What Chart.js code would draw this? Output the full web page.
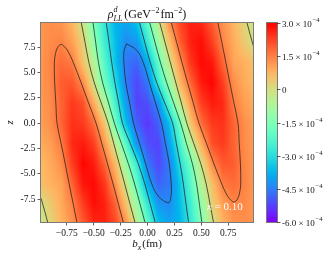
<!DOCTYPE html>
<html>
<head>
<meta charset="utf-8">
<script src="https://cdn.jsdelivr.net/npm/chart.js@4.4.1/dist/chart.umd.min.js"></script>
<style>
    html, body { margin: 0; padding: 0; background: #fff; }
    #wrap { position: relative; width: 335px; height: 258px; }
    #main { position: absolute; left: 0; top: 0; }
    #cbar { position: absolute; left: 260px; top: 0; }
</style>
</head>
<body>
<div id="wrap">
    <canvas id="main" width="335" height="258"></canvas>
    <canvas id="cbar" width="75" height="258"></canvas>
</div>
<script>
// grid of rho values (units of 1e-4 GeV^-2 fm^-2)
const bxGrid = [-1.0, -0.9, -0.8, -0.7, -0.6, -0.5, -0.4, -0.3, -0.2, -0.1, 0.0, 0.1, 0.2, 0.3, 0.4, 0.5, 0.6, 0.7, 0.8, 0.9, 1.0];
const zGrid = [10, 8, 6, 4, 2, 0, -2, -4, -6, -8, -10];
const rho = [
    [1.2, 1.3, 1.2, 0.75, -0.2, -1.6, -2.8, -3.75, -4.0, -3.5, -2.0, -0.3, 1.3, 2.2, 2.65, 2.55, 1.95, 1.25, 0.75, 0.2, -0.35],
    [1.15, 1.35, 1.45, 1.05, 0.3, -1.2, -2.6, -3.6, -4.35, -4.2, -2.75, -1.05, 0.55, 1.9, 2.65, 2.85, 2.3, 1.45, 0.9, 0.4, -0.1],
    [1.15, 1.45, 1.75, 1.55, 0.55, -0.55, -2.2, -3.5, -4.6, -4.85, -3.9, -2.0, -0.2, 1.25, 2.4, 2.9, 2.75, 1.85, 1.0, 0.8, 0.55],
    [1.15, 1.4, 1.95, 2.0, 1.35, -0.1, -1.8, -3.05, -4.55, -5.2, -4.6, -2.7, -1.15, 0.7, 1.85, 2.7, 2.95, 2.3, 1.3, 0.9, 0.65],
    [1.1, 1.35, 1.85, 2.35, 2.1, 0.9, -0.6, -2.5, -4.1, -5.25, -5.1, -4.3, -2.2, -0.3, 1.2, 2.3, 2.7, 2.55, 1.55, 1.1, 0.85],
    [1.05, 1.3, 1.85, 2.45, 2.35, 1.75, 0.5, -1.8, -3.6, -4.9, -5.4, -4.9, -3.6, -1.8, 0.5, 1.75, 2.35, 2.45, 1.85, 1.3, 1.05],
    [0.85, 1.1, 1.55, 2.55, 2.7, 2.3, 1.2, -0.3, -2.2, -4.3, -5.1, -5.25, -4.1, -2.5, -0.6, 0.9, 2.1, 2.35, 1.85, 1.35, 1.1],
    [0.65, 0.9, 1.3, 2.3, 2.95, 2.7, 1.85, 0.7, -1.15, -2.7, -4.6, -5.2, -4.55, -3.05, -1.8, -0.1, 1.35, 2.0, 1.95, 1.4, 1.15],
    [0.55, 0.8, 1.0, 1.85, 2.75, 2.9, 2.4, 1.25, -0.2, -2.0, -3.9, -4.85, -4.6, -3.5, -2.2, -0.55, 0.55, 1.55, 1.75, 1.45, 1.15],
    [-0.1, 0.4, 0.9, 1.45, 2.3, 2.85, 2.65, 1.9, 0.55, -1.05, -2.75, -4.2, -4.35, -3.6, -2.6, -1.2, 0.3, 1.05, 1.45, 1.35, 1.15],
    [-0.35, 0.2, 0.75, 1.25, 1.95, 2.55, 2.65, 2.2, 1.3, -0.3, -2.0, -3.5, -4.0, -3.75, -2.8, -1.6, -0.2, 0.75, 1.2, 1.3, 1.2]
];

// contour lines [bx, z], levels 1.5, 0, -1.5, -3, -4.5 (x1e-4)
const contour15Left = [[-0.654, -9.9], [-0.69, -8], [-0.728, -6], [-0.765, -4], [-0.803, -2], [-0.841, 0], [-0.852, 2], [-0.863, 4], [-0.866, 6], [-0.855, 6.9], [-0.835, 7.5], [-0.805, 7.78], [-0.775, 7.6], [-0.738, 7.1], [-0.69, 6], [-0.617, 4], [-0.548, 2], [-0.478, 0], [-0.425, -2], [-0.372, -4], [-0.32, -6], [-0.27, -8], [-0.222, -9.9]];
const contour15Right = [[0.654, 9.9], [0.69, 8], [0.728, 6], [0.765, 4], [0.803, 2], [0.841, 0], [0.852, -2], [0.863, -4], [0.866, -6], [0.855, -6.9], [0.835, -7.5], [0.805, -7.78], [0.775, -7.6], [0.738, -7.1], [0.69, -6], [0.617, -4], [0.548, -2], [0.478, 0], [0.425, 2], [0.372, 4], [0.32, 6], [0.27, 8], [0.222, 9.9]];
const contour0Left = [[-0.615, 9.9], [-0.581, 8], [-0.545, 6], [-0.495, 4], [-0.43, 2], [-0.365, 0], [-0.314, -2], [-0.263, -4], [-0.212, -6], [-0.162, -8], [-0.114, -9.9]];
const contour0Right = [[0.114, 9.9], [0.162, 8], [0.212, 6], [0.263, 4], [0.314, 2], [0.365, 0], [0.43, -2], [0.495, -4], [0.545, -6], [0.581, -8], [0.615, -9.9]];
const contour0TopRight = [[0.925, 9.9], [0.955, 8.7], [0.99, 7.4]];
const contour0BottomLeft = [[-0.925, -9.9], [-0.955, -8.7], [-0.99, -7.4]];
const contourM15Left = [[-0.506, 9.9], [-0.482, 8], [-0.456, 6], [-0.417, 4], [-0.362, 2], [-0.308, 0], [-0.243, -2], [-0.178, -4], [-0.12, -6], [-0.069, -8], [-0.021, -9.9]];
const contourM15Right = [[0.021, 9.9], [0.069, 8], [0.12, 6], [0.178, 4], [0.243, 2], [0.308, 0], [0.362, -2], [0.417, -4], [0.456, -6], [0.482, -8], [0.506, -9.9]];
const contourM3Left = [[-0.383, 9.9], [-0.358, 8], [-0.333, 6], [-0.303, 4], [-0.268, 2], [-0.233, 0], [-0.16, -2], [-0.086, -4], [-0.025, -6], [0.026, -8], [0.074, -9.9]];
const contourM3Right = [[-0.074, 9.9], [-0.026, 8], [0.025, 6], [0.086, 4], [0.16, 2], [0.233, 0], [0.268, -2], [0.303, -4], [0.333, -6], [0.358, -8], [0.383, -9.9]];
const contourM45 = [[-0.195, 7.85], [-0.218, 7.2], [-0.22, 6], [-0.202, 4], [-0.166, 2], [-0.13, 0], [-0.074, -2], [-0.018, -4], [0.04, -6], [0.1, -7.2], [0.195, -7.85], [0.218, -7.2], [0.22, -6], [0.202, -4], [0.166, -2], [0.13, 0], [0.074, 2], [0.018, 4], [-0.04, 6], [-0.1, 7.2], [-0.195, 7.85]];

const xTicks = [-0.75, -0.5, -0.25, 0, 0.25, 0.5, 0.75];
const xTickLabels = ['\u22120.75', '\u22120.50', '\u22120.25', '0.00', '0.25', '0.50', '0.75'];
const zTicks = [-7.5, -5, -2.5, 0, 2.5, 5, 7.5];
const zTickLabels = ['-7.5', '-5.0', '-2.5', '0.0', '2.5', '5.0', '7.5'];
const cbTicks = [-6, -4.5, -3, -1.5, 0, 1.5, 3];
const cbTickLabels = ['-6.0', '-4.5', '-3.0', '-1.5', '0', '1.5', '3.0'];
const cbMin = -6, cbMax = 3;

const SERIF = '"Liberation Serif", "Times New Roman", serif';

// matplotlib "rainbow"
function rainbow(v) {
    let t = (v - cbMin) / (cbMax - cbMin);
    t = Math.max(0, Math.min(1, t));
    const cl = a => Math.max(0, Math.min(1, a));
    return [
        Math.round(255 * cl(Math.abs(2 * t - 0.5))),
        Math.round(255 * cl(Math.sin(Math.PI * t))),
        Math.round(255 * cl(Math.cos(Math.PI * t / 2)))
    ];
}

function locate(arr, v) {
    const asc = arr[1] > arr[0];
    for (let i = 0; i < arr.length - 1; i++) {
        const lo = arr[i], hi = arr[i + 1];
        if ((asc && v <= hi) || (!asc && v >= hi)) {
            const f = Math.max(0, Math.min(1, (v - lo) / (hi - lo)));
            return [i, f];
        }
    }
    return [arr.length - 2, 1];
}

// gouraud-style shading of the grid, through the chart's scales
const heatmapPlugin = {
    id: 'heatmap',
    beforeDatasetsDraw(chart) {
        const { ctx, chartArea: a, scales: { x, y } } = chart;
        const w = Math.round(a.right - a.left), h = Math.round(a.bottom - a.top);
        const off = document.createElement('canvas');
        off.width = w; off.height = h;
        const octx = off.getContext('2d');
        const img = octx.createImageData(w, h);
        for (let j = 0; j < h; j++) {
            const [zi, zf] = locate(zGrid, y.getValueForPixel(a.top + j + 0.5));
            for (let i = 0; i < w; i++) {
                const [bi, bf] = locate(bxGrid, x.getValueForPixel(a.left + i + 0.5));
                const top = rho[zi][bi] * (1 - bf) + rho[zi][bi + 1] * bf;
                const bot = rho[zi + 1][bi] * (1 - bf) + rho[zi + 1][bi + 1] * bf;
                const c = rainbow(top * (1 - zf) + bot * zf);
                const k = (j * w + i) * 4;
                img.data[k] = c[0]; img.data[k + 1] = c[1]; img.data[k + 2] = c[2]; img.data[k + 3] = 255;
            }
        }
        octx.putImageData(img, 0, 0);
        ctx.drawImage(off, a.left, a.top);
    }
};

const textPlugin = {
    id: 'texts',
    afterDraw(chart) {
        const { ctx, chartArea: a } = chart;
        ctx.save();
        // frame
        ctx.strokeStyle = '#7a7a7a';
        ctx.lineWidth = 1;
        ctx.strokeRect(a.left - 0.5, a.top - 0.5, a.right - a.left + 1, a.bottom - a.top + 1);

        ctx.fillStyle = '#111';
        ctx.textBaseline = 'alphabetic';
        // title: rho^d_LL (GeV^-2 fm^-2)
        const big = `12px ${SERIF}`, bigI = `italic 12px ${SERIF}`, small = `8px ${SERIF}`, smallI = `italic 8px ${SERIF}`;
        const parts = [
            { t: '\u03c1', f: bigI, dy: 0 },
            { t: 'd', f: smallI, dy: -6, stack: true },
            { t: 'LL', f: smallI, dy: 3 },
            { t: '(GeV', f: big, dy: 0, gap: 2 },
            { t: '\u22122', f: small, dy: -5 },
            { t: 'fm', f: big, dy: 0, gap: 1 },
            { t: '\u22122', f: small, dy: -5 },
            { t: ')', f: big, dy: 0 }
        ];
        let total = 0, stackW = 0;
        parts.forEach(p => {
            ctx.font = p.f;
            p.w = ctx.measureText(p.t).width;
            if (p.stack) { stackW = p.w; p.adv = 0; }
            else { p.adv = Math.max(p.w, stackW); stackW = 0; }
            total += p.adv + (p.gap || 0);
        });
        let cx = (a.left + a.right) / 2 - total / 2;
        parts.forEach(p => {
            cx += p.gap || 0;
            ctx.font = p.f;
            ctx.fillText(p.t, cx, 18 + p.dy);
            cx += p.adv;
        });

        // x label: b_x (fm)
        ctx.font = `italic 11px ${SERIF}`;
        const bw = ctx.measureText('b').width;
        ctx.font = `italic 8px ${SERIF}`;
        const sw = ctx.measureText('x').width;
        ctx.font = `11px ${SERIF}`;
        const fw = ctx.measureText('(fm)').width;
        let lx = (a.left + a.right) / 2 - (bw + sw + fw + 1) / 2;
        ctx.font = `italic 11px ${SERIF}`;
        ctx.fillText('b', lx, 247);
        ctx.font = `italic 8px ${SERIF}`;
        ctx.fillText('x', lx + bw, 249.5);
        ctx.font = `11px ${SERIF}`;
        ctx.fillText('(fm)', lx + bw + sw + 1, 247);

        // y label: z (rotated)
        ctx.save();
        ctx.translate(13, (a.top + a.bottom) / 2);
        ctx.rotate(-Math.PI / 2);
        ctx.font = `italic 10.5px ${SERIF}`;
        ctx.textAlign = 'center';
        ctx.fillText('z', 0, 0);
        ctx.restore();

        // x = 0.10
        ctx.fillStyle = '#fff';
        ctx.font = `italic 11px ${SERIF}`;
        ctx.fillText('x', 207, 209.5);
        const xw = ctx.measureText('x').width;
        ctx.font = `11px ${SERIF}`;
        ctx.fillText(' = 0.10', 207 + xw, 209.5);
        ctx.restore();
    }
};

const contourSets = [contour15Left, contour15Right, contour0Left, contour0Right, contour0TopRight, contour0BottomLeft,
    contourM15Left, contourM15Right, contourM3Left, contourM3Right, contourM45];

new Chart(document.getElementById('main'), {
    type: 'scatter',
    data: {
        datasets: contourSets.map(pts => ({
            data: pts.map(([bx, z]) => ({ x: bx, y: z })),
            showLine: true,
            borderColor: 'rgba(35, 35, 35, 0.85)',
            borderWidth: 0.9,
            pointRadius: 0,
            tension: 0.35,
            fill: false
        }))
    },
    options: {
        responsive: false,
        animation: false,
        devicePixelRatio: 1,
        layout: { padding: { left: 0, top: 23, right: 82, bottom: 0 } },
        plugins: { legend: { display: false }, tooltip: { enabled: false } },
        scales: {
            x: {
                type: 'linear', min: -0.99, max: 0.98,
                afterBuildTicks: s => { s.ticks = xTicks.map(v => ({ value: v })); },
                afterFit: s => { s.height = 36; },
                grid: { drawOnChartArea: false, drawTicks: true, tickLength: 3.5, tickColor: '#333', tickWidth: 0.8 },
                border: { display: false },
                ticks: {
                    font: { family: SERIF, size: 9.5 }, color: '#111', padding: 2, maxRotation: 0, autoSkip: false,
                    callback: (v, i) => xTickLabels[i]
                }
            },
            y: {
                type: 'linear', min: -9.75, max: 9.9,
                afterBuildTicks: s => { s.ticks = zTicks.map(v => ({ value: v })); },
                afterFit: s => { s.width = 41; },
                grid: { drawOnChartArea: false, drawTicks: true, tickLength: 3.5, tickColor: '#333', tickWidth: 0.8 },
                border: { display: false },
                ticks: {
                    font: { family: SERIF, size: 9.5 }, color: '#111', padding: 2, autoSkip: false,
                    callback: (v, i) => zTickLabels[i]
                }
            }
        }
    },
    plugins: [heatmapPlugin, textPlugin]
});

// colorbar
const cbarPlugin = {
    id: 'cbarTicks',
    afterDraw(chart) {
        const { ctx, chartArea: a, scales: { y } } = chart;
        ctx.save();
        ctx.strokeStyle = '#7a7a7a';
        ctx.lineWidth = 1;
        ctx.strokeRect(a.left - 0.5, a.top - 0.5, a.right - a.left + 1, a.bottom - a.top + 1);
        ctx.strokeStyle = '#333';
        ctx.lineWidth = 0.8;
        ctx.fillStyle = '#111';
        cbTicks.forEach((v, i) => {
            const py = Math.round(y.getPixelForValue(v)) + 0.5;
            ctx.beginPath();
            ctx.moveTo(a.right, py);
            ctx.lineTo(a.right + 3.5, py);
            ctx.stroke();
            const lx = a.right + 5;
            ctx.font = `9px ${SERIF}`;
            if (v === 0) {
                ctx.fillText(cbTickLabels[i], lx, py + 3);
                return;
            }
            const s = cbTickLabels[i] + ' \u00d7 10';
            ctx.fillText(s, lx, py + 3);
            const w = ctx.measureText(s).width;
            ctx.font = `6.5px ${SERIF}`;
            ctx.fillText('\u22124', lx + w + 0.8, py - 1.8);
        });
        ctx.restore();
    }
};

new Chart(document.getElementById('cbar'), {
    type: 'bar',
    data: {
        labels: [''],
        datasets: [{
            data: [[cbMin, cbMax]],
            backgroundColor: (context) => {
                const area = context.chart.chartArea;
                if (!area) return '#888';
                const g = context.chart.ctx.createLinearGradient(0, area.bottom, 0, area.top);
                for (let k = 0; k <= 30; k++) {
                    const c = rainbow(cbMin + (cbMax - cbMin) * k / 30);
                    g.addColorStop(k / 30, `rgb(${c[0]},${c[1]},${c[2]})`);
                }
                return g;
            },
            borderWidth: 0,
            barPercentage: 1,
            categoryPercentage: 1
        }]
    },
    options: {
        responsive: false,
        animation: false,
        devicePixelRatio: 1,
        layout: { padding: { left: 7, top: 23, right: 0, bottom: 36 } },
        plugins: { legend: { display: false }, tooltip: { enabled: false } },
        scales: {
            x: { display: false },
            y: {
                position: 'right', min: cbMin, max: cbMax,
                afterBuildTicks: s => { s.ticks = cbTicks.map(v => ({ value: v })); },
                afterFit: s => { s.width = 58; },
                grid: { display: false },
                border: { display: false },
                ticks: { display: false }
            }
        }
    },
    plugins: [cbarPlugin]
});
</script>
</body>
</html>
